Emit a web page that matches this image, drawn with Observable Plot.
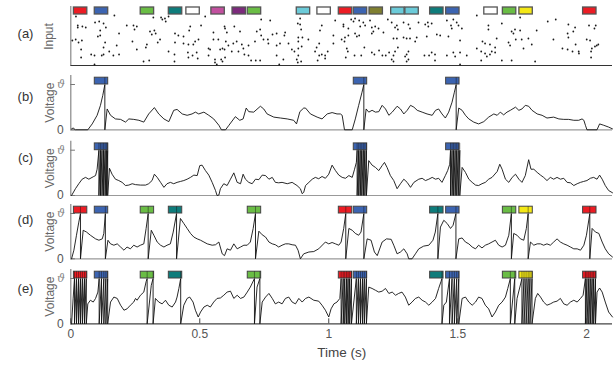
<!DOCTYPE html>
<html><head><meta charset="utf-8">
<script src="https://cdn.jsdelivr.net/npm/d3@7"></script>
<script src="https://cdn.jsdelivr.net/npm/@observablehq/plot@0.6"></script>
<style>
body{margin:0;background:#fff;}
#chart{position:relative;width:615px;height:368px;overflow:hidden;background:#fff;}
#chart svg{position:absolute;left:0;top:0;}
</style></head><body><div id="chart"></div>
<script>
// ---------- data ----------
const patternNames  = ["P-red","P-blue","P-green","P-teal","P-white","P-magenta","P-purple","P-olive","P-cyan","P-yellow"];
const patternColors = ["#ec1c24","#3c64b1","#6abd45","#0e7c7b","#ffffff","#c2509f","#7c2a7c","#7f7f30","#6ccbd9","#f4e816"];
const patternStarts = [0.012,0.093,0.271,0.38,0.448,0.545,0.627,0.686,0.876,0.956,1.039,1.097,1.158,1.242,1.297,1.393,1.455,1.603,1.675,1.739,1.986];
const patternIds    = ["P-red","P-blue","P-green","P-teal","P-white","P-magenta","P-purple","P-green","P-cyan","P-white","P-red","P-blue","P-olive","P-cyan","P-cyan","P-teal","P-blue","P-white","P-green","P-yellow","P-red"];
const patternLength = 0.052;
const targetsSingle = ["P-blue"];
const targetsMulti  = ["P-red","P-blue","P-green","P-teal","P-yellow"];

// input raster: [time (ms), afferent index]
const inputSpikes = [
[27,39],[45,38],[27,37],[58,37],[94,42],[110,43],[127,41],[136,37],[114,34],[114,29],[105,28],[187,31],[217,39],[243,39],[256,38],[247,35],[307,33],[324,34],[329,31],[314,30],[355,45],[368,43],[379,48],[404,31],[417,29],[437,28],[463,38],[459,34],[505,39],[521,48],[596,38],[598,36],[634,38],[605,32],[553,32],[656,33],[721,33],[734,35],[738,45],[773,44],[738,29],[764,25],[782,30],[798,31],[831,32],[828,29],[880,41],[889,40],[893,35],[898,27],[882,27],[889,46],[973,39],[966,34],[1018,29],[1025,44],
[169,49],[320,47],[350,47],[365,46],[20,48],
[6,24],[19,25],[30,22],[43,24],[40,15],[127,17],[133,22],[178,19],[239,23],[295,20],[291,17],[337,22],[346,25],[404,22],[437,21],[456,20],[475,20],[482,23],[495,25],[534,16],[553,25],[572,25],[601,23],[611,19],[630,21],[643,23],[663,20],[689,19],[714,23],[747,25],[766,21],[798,19],[811,21],[844,21],[882,23],[921,25],[953,17],[963,21],[1018,21],
[40,7],[79,10],[92,9],[120,9],[127,10],[149,13],[165,9],[187,10],[92,0],[256,15],[282,3],[304,4],[379,13],[402,10],[402,3],[454,12],[456,7],[472,9],[488,12],[492,6],[534,9],[540,15],[559,5],[559,2],[579,15],[588,16],[596,15],[583,5],[588,3],[566,0],[598,7],[624,13],[650,13],[669,16],[673,10],[689,9],[699,4],[717,4],[734,4],[798,9],[824,5],[808,0],[857,15],[867,13],[882,16],[895,18],[882,9],[876,5],[880,2],[893,3],[947,13],[963,9],[973,10],[986,9],[996,13],[986,6],[957,4],
[1057,40],[1057,38],[1076,36],[1087,45],[1096,43],[1102,46],[1118,44],[1122,38],[1134,42],[1141,39],[1160,44],[1167,37],[1180,38],[1193,36],[1229,45],[1244,42],[1264,39],[1257,37],[1268,35],[1290,42],[1309,40],[1315,36],[1348,42],[1374,40],[1386,38],[1384,42],[1399,41],[1458,44],[1483,45],[1496,42],[1503,39],[1516,36],[1474,39],[1477,36],[1574,49],[1619,39],[1619,35],[1671,41],[1709,33],[1722,35],[1716,31],[1742,47],[1742,34],[1806,34],[1849,43],[1880,45],[1929,40],[1955,37],[1948,33],[2009,39],[2030,36],[2035,39],
[1063,27],[1076,29],[1109,28],[1118,29],[1102,31],[1167,31],[1173,33],[1212,32],[1251,26],[1264,26],[1290,27],[1302,26],[1315,26],[1341,27],[1335,23],[1380,28],[1419,30],[1432,29],[1464,28],[1509,24],[1596,23],[1606,21],[1625,20],[1651,26],[1697,22],[1703,19],[1725,25],[1748,25],[1774,26],[1787,20],[1871,25],[1926,31],[1929,27],[1957,20],[2000,25],[2013,24],[2039,19],[2045,20],[1050,25],[1061,23],
[1070,16],[1074,13],[1066,7],[1100,9],[1126,9],[1138,17],[1167,12],[1177,10],[1195,14],[1208,9],[1221,9],[1234,12],[1244,5],[1251,3],[1251,9],[1268,17],[1257,13],[1296,8],[1302,10],[1302,3],[1309,5],[1309,13],[1371,9],[1389,9],[1399,12],[1412,10],[1412,4],[1458,9],[1483,12],[1490,8],[1509,12],[1535,9],[1509,0],[1574,16],[1591,13],[1591,4],[1606,11],[1613,8],[1625,10],[1632,13],[1645,12],[1645,17],[1671,4],[1709,4],[1755,16],[1800,3],[1906,16],[1926,15],[1945,13],[1969,13],[1970,11],[2017,13],[2017,7],[2032,18],[2020,16]
];

// voltage traces: [time (s), V / threshold]
const traceB = [[0.003,0.02],[0.009,0.04],[0.018,0],[0.066,0],[0.083,0.13],[0.102,0.32],[0.115,0.54],[0.124,0.76],
[0.141,0.46],[0.154,0.32],[0.173,0.24],[0.193,0.23],[0.212,0.17],[0.225,0.24],[0.244,0.23],[0.264,0.21],[0.283,0.17],[0.302,0.35],[0.324,0.49],[0.341,0.35],[0.361,0.24],[0.38,0.18],[0.399,0.43],[0.412,0.45],[0.432,0.35],[0.451,0.32],[0.47,0.35],[0.483,0.39],[0.496,0.35],[0.516,0.39],[0.535,0.32],[0.554,0.24],[0.574,0.10],[0.584,0],[0.6,0],[0.613,0.10],[0.638,0.29],[0.655,0.21],[0.668,0.24],[0.68,0.48],[0.69,0.40],[0.709,0.39],[0.735,0.52],[0.748,0.46],[0.761,0.35],[0.787,0.28],[0.813,0.26],[0.839,0.24],[0.864,0.21],[0.875,0.13],[0.888,0.40],[0.903,0.48],[0.91,0.48],[0.929,0.35],[0.955,0.28],[0.974,0.24],[0.994,0.35],[1.013,0.38],[1.032,0.35],[1.045,0.35],[1.052,0.32],[1.061,0],[1.091,0],[1.103,0.24],[1.116,0.54],[1.129,0.83],
[1.145,0.46],[1.155,0.39],[1.168,0.43],[1.181,0.39],[1.194,0.40],[1.207,0.54],[1.22,0.46],[1.233,0.32],[1.246,0.39],[1.265,0.52],[1.278,0.46],[1.291,0.35],[1.304,0.43],[1.317,0.54],[1.33,0.5],[1.343,0.43],[1.362,0.39],[1.381,0.35],[1.401,0.32],[1.414,0.43],[1.426,0.46],[1.439,0.35],[1.452,0.26],[1.465,0.39],[1.478,0.61],[1.487,0.83],
[1.504,0.48],[1.517,0.43],[1.53,0.32],[1.543,0.24],[1.562,0.17],[1.581,0.13],[1.601,0.18],[1.62,0.28],[1.64,0.35],[1.653,0.32],[1.665,0.39],[1.678,0.33],[1.691,0.39],[1.704,0.43],[1.724,0.5],[1.737,0.43],[1.749,0.46],[1.762,0.54],[1.775,0.52],[1.788,0.43],[1.808,0.35],[1.827,0.32],[1.846,0.26],[1.872,0.28],[1.892,0.24],[1.911,0.23],[1.93,0.23],[1.95,0.21],[1.969,0.21],[1.982,0.24],[1.989,0.21],[1.995,0.10],[2.001,0],[2.04,0],[2.05,0.13],[2.066,0.10],[2.085,0.06],[2.1,0.02]];
const spikesB = [0.132,1.136,1.494];

const traceC = [[0.003,0],[0.018,0.15],[0.031,0.26],[0.044,0.36],[0.057,0.40],[0.07,0.36],[0.089,0.42],[0.096,0.44],[0.102,0.58],
[0.15,0.60],[0.16,0.47],[0.173,0.36],[0.186,0.33],[0.199,0.29],[0.212,0.22],[0.225,0.23],[0.238,0.26],[0.251,0.24],[0.27,0.23],[0.29,0.23],[0.302,0.26],[0.315,0.33],[0.324,0.47],[0.335,0.40],[0.348,0.29],[0.361,0.18],[0.373,0.26],[0.386,0.29],[0.399,0.26],[0.412,0.29],[0.425,0.31],[0.438,0.33],[0.451,0.36],[0.464,0.40],[0.477,0.45],[0.49,0.44],[0.5,0.66],[0.509,0.67],[0.522,0.55],[0.535,0.45],[0.548,0.29],[0.561,0.11],[0.567,0],[0.574,0.01],[0.58,0.15],[0.593,0.26],[0.606,0.22],[0.619,0.36],[0.632,0.50],[0.645,0.29],[0.658,0.26],[0.668,0.47],[0.677,0.36],[0.69,0.29],[0.703,0.26],[0.716,0.36],[0.729,0.35],[0.742,0.45],[0.755,0.44],[0.768,0.36],[0.781,0.40],[0.793,0.29],[0.806,0.28],[0.819,0.29],[0.839,0.26],[0.858,0.29],[0.877,0.22],[0.89,0.15],[0.897,0.04],[0.903,0.07],[0.91,0.22],[0.923,0.29],[0.936,0.36],[0.948,0.40],[0.961,0.37],[0.974,0.42],[0.987,0.38],[1.0,0.47],[1.013,0.67],[1.026,0.55],[1.039,0.45],[1.052,0.40],[1.065,0.38],[1.078,0.44],[1.091,0.40],[1.1,0.58],[1.107,0.73],
[1.155,0.77],[1.168,0.67],[1.181,0.62],[1.194,0.55],[1.207,0.66],[1.216,0.73],[1.226,0.62],[1.239,0.44],[1.252,0.33],[1.265,0.15],[1.278,0.26],[1.291,0.36],[1.304,0.29],[1.317,0.18],[1.33,0.29],[1.349,0.36],[1.362,0.38],[1.375,0.33],[1.388,0.36],[1.401,0.40],[1.414,0.36],[1.426,0.38],[1.439,0.29],[1.452,0.44],[1.461,0.55],[1.469,0.69],
[1.517,0.62],[1.53,0.51],[1.543,0.36],[1.556,0.29],[1.569,0.23],[1.581,0.22],[1.594,0.26],[1.607,0.29],[1.62,0.36],[1.633,0.40],[1.653,0.53],[1.663,0.69],[1.672,0.58],[1.685,0.36],[1.698,0.29],[1.711,0.40],[1.724,0.47],[1.737,0.36],[1.749,0.29],[1.762,0.44],[1.775,0.79],[1.784,0.58],[1.795,0.58],[1.808,0.51],[1.821,0.45],[1.833,0.40],[1.846,0.33],[1.859,0.40],[1.872,0.36],[1.885,0.40],[1.898,0.36],[1.911,0.38],[1.924,0.29],[1.937,0.28],[1.95,0.22],[1.963,0.26],[1.976,0.29],[1.988,0.31],[2.001,0.33],[2.014,0.38],[2.027,0.40],[2.04,0.36],[2.05,0.45],[2.06,0.36],[2.072,0.22],[2.085,0.11],[2.1,0.06]];
const spikesC = [0.109,0.115,0.121,0.127,0.133,0.138,0.143, 1.11,1.116,1.122,1.128,1.134,1.14,1.146, 1.472,1.478,1.484,1.49,1.496,1.502,1.508];

const traceD = [[0.003,0],[0.012,0.19],[0.022,0.52],[0.031,0.81],
[0.048,0.63],[0.061,0.59],[0.076,0.52],[0.096,0.44],[0.109,0.41],[0.122,0.44],[0.128,0.56],
[0.144,0.41],[0.154,0.33],[0.167,0.30],[0.18,0.33],[0.193,0.26],[0.206,0.19],[0.218,0.26],[0.231,0.22],[0.244,0.30],[0.257,0.26],[0.27,0.30],[0.283,0.33],[0.292,0.67],
[0.312,0.63],[0.322,0.52],[0.335,0.37],[0.348,0.30],[0.361,0.26],[0.373,0.30],[0.386,0.33],[0.397,0.59],
[0.425,0.89],[0.438,0.78],[0.451,0.67],[0.464,0.56],[0.477,0.48],[0.49,0.44],[0.503,0.41],[0.516,0.37],[0.529,0.33],[0.548,0.30],[0.561,0.31],[0.574,0.37],[0.587,0.11],[0.596,0.07],[0.606,0.22],[0.619,0.19],[0.632,0.33],[0.645,0.22],[0.658,0.26],[0.671,0.30],[0.684,0.30],[0.696,0.37],[0.707,0.67],
[0.729,0.61],[0.742,0.53],[0.755,0.48],[0.768,0.37],[0.781,0.33],[0.793,0.31],[0.806,0.26],[0.819,0.30],[0.832,0.33],[0.845,0.33],[0.858,0.31],[0.871,0.30],[0.881,0.19],[0.89,0],[0.903,0.11],[0.923,0.15],[0.942,0.16],[0.961,0.22],[0.987,0.37],[1.0,0.33],[1.013,0.36],[1.026,0.33],[1.039,0.30],[1.048,0.37],[1.058,0.67],
[1.078,0.67],[1.091,0.63],[1.103,0.56],[1.116,0.52],[1.125,0.59],
[1.149,0.44],[1.164,0.41],[1.177,0.15],[1.188,0.07],[1.207,0.37],[1.224,0.44],[1.242,0.43],[1.252,0.30],[1.265,0.11],[1.278,0.15],[1.291,0.22],[1.304,0.11],[1.31,0],[1.323,0],[1.336,0.11],[1.349,0.22],[1.368,0.28],[1.388,0.30],[1.404,0.41],[1.413,0.59],
[1.433,0.70],[1.446,0.85],[1.459,0.78],[1.472,0.67],[1.482,0.74],
[1.504,0.44],[1.517,0.46],[1.53,0.37],[1.543,0.33],[1.556,0.26],[1.569,0.22],[1.581,0.30],[1.594,0.24],[1.607,0.30],[1.62,0.33],[1.633,0.37],[1.646,0.41],[1.659,0.30],[1.672,0.26],[1.685,0.30],[1.698,0.52],
[1.717,0.56],[1.73,0.52],[1.743,0.44],[1.756,0.41],[1.766,0.67],
[1.782,0.37],[1.795,0.30],[1.808,0.33],[1.821,0.33],[1.833,0.30],[1.846,0.33],[1.859,0.30],[1.872,0.37],[1.885,0.44],[1.898,0.37],[1.911,0.33],[1.924,0.30],[1.937,0.26],[1.95,0.22],[1.963,0.22],[1.976,0.19],[1.989,0.30],[1.999,0.52],
[2.021,0.67],[2.034,0.59],[2.047,0.56],[2.06,0.37],[2.072,0.22],[2.085,0.11],[2.1,0.04]];
const spikesD = [0.0375,0.134,0.3,0.41,0.716,1.066,1.136,1.423,1.493,1.708,1.773,2.012];

const traceE = [[0.003,0],[0.009,0.55],
[0.066,0.44],[0.076,0.52],[0.087,0.48],[0.096,0.56],[0.105,0.70],
[0.154,0.48],[0.167,0.59],[0.18,0.56],[0.193,0.41],[0.206,0.30],[0.218,0.33],[0.231,0.41],[0.244,0.48],[0.251,0.56],[0.257,0.52],[0.27,0.63],[0.283,0.70],[0.292,0.93],
[0.312,0.85],
[0.328,0.56],[0.341,0.48],[0.354,0.44],[0.367,0.52],[0.38,0.41],[0.393,0.37],[0.406,0.48],[0.412,0.59],[0.419,0.78],
[0.438,0.41],[0.451,0.56],[0.461,0.59],[0.474,0.48],[0.483,0.30],[0.494,0.15],[0.503,0.26],[0.516,0.37],[0.529,0.41],[0.541,0.37],[0.554,0.48],[0.567,0.56],[0.58,0.57],[0.593,0.63],[0.606,0.70],[0.619,0.72],[0.632,0.56],[0.645,0.63],[0.658,0.56],[0.671,0.59],[0.684,0.70],[0.696,0.81],
[0.722,0.81],
[0.742,0.48],[0.755,0.59],[0.768,0.67],[0.781,0.56],[0.793,0.44],[0.806,0.48],[0.819,0.44],[0.832,0.56],[0.845,0.59],[0.858,0.48],[0.871,0.44],[0.884,0.56],[0.897,0.48],[0.91,0.56],[0.923,0.59],[0.942,0.52],[0.961,0.50],[0.974,0.41],[0.987,0.30],[1.0,0.15],[1.009,0.33],[1.02,0.44],[1.032,0.48],[1.043,0.56],
[1.155,0.81],[1.168,0.78],[1.181,0.74],[1.194,0.70],[1.207,0.72],[1.22,0.78],[1.233,0.67],[1.246,0.70],[1.259,0.63],[1.271,0.67],[1.284,0.70],[1.297,0.59],[1.31,0.41],[1.323,0.48],[1.336,0.56],[1.349,0.59],[1.362,0.52],[1.375,0.48],[1.388,0.41],[1.401,0.48],[1.414,0.56],[1.426,0.78],[1.435,0.93],
[1.446,0.41],[1.456,0.48],
[1.517,0.56],[1.53,0.59],[1.543,0.48],[1.556,0.41],[1.569,0.48],[1.581,0.59],[1.594,0.56],[1.607,0.41],[1.62,0.33],[1.633,0.15],[1.646,0.26],[1.659,0.41],[1.672,0.48],[1.685,0.59],[1.694,0.78],
[1.73,0.56],
[1.801,0.56],[1.81,0.67],[1.821,0.59],[1.833,0.48],[1.846,0.41],[1.859,0.44],[1.872,0.48],[1.885,0.50],[1.898,0.56],[1.911,0.44],[1.924,0.41],[1.937,0.48],[1.95,0.52],[1.963,0.48],[1.976,0.56],[1.986,0.63],
[2.04,0.70],[2.05,0.79],[2.06,0.70],[2.072,0.48],[2.085,0.26],[2.1,0.15]];
const spikesE = [0.0143,0.022,0.03,0.0375,0.045,0.053,0.06, 0.11,0.119,0.128,0.136,0.143, 0.296,0.319, 0.426, 0.712,0.733,
1.048,1.056,1.062,1.069,1.075,1.081,1.088, 1.107,1.115,1.123,1.131,1.138,1.146, 1.439, 1.468,1.478,1.487,1.496,1.504,
1.704,1.721, 1.749,1.757,1.765,1.773,1.78,1.788, 1.995,2.001,2.008,2.014,2.021,2.027,2.034];

const xTicks = [0, 0.5, 1, 1.5, 2];
const xTickLabels = ["0", "0.5", "1", "1.5", "2"];
const panelLabels = ["(a)", "(b)", "(c)", "(d)", "(e)"];

// ---------- layout ----------
const W = 615, H = 368, ML = 70.3, MR = 3;
const UNIT = 45.3;
const FONT = "Liberation Sans, Arial, Helvetica, sans-serif";
const chart = document.getElementById("chart");
const patterns = patternStarts.map((t, i) => ({t, id: patternIds[i]}));
const colorScale = {type: "ordinal", domain: patternNames, range: patternColors};
const baseStyle = {background: "transparent", overflow: "visible", fontFamily: FONT};

function buildTrace(pairs, spikes) {
  const rows = pairs.map(([t, v]) => ({t, v, k: 0}));
  for (const s of spikes) { rows.push({t: s, v: 1, k: 1}); rows.push({t: s, v: 0, k: 2}); }
  rows.sort((a, b) => a.t - b.t || a.k - b.k);
  return rows;
}

// panel (a)
chart.append(Plot.plot({
  width: W, height: H, marginLeft: ML, marginRight: MR, marginTop: 6, marginBottom: H - 65,
  style: baseStyle,
  x: {domain: [0, 2.1], axis: null},
  y: {domain: [-1, 58], axis: null},
  color: colorScale,
  marks: [
    Plot.ruleX([0], {y1: -1, y2: 58, stroke: "#888", strokeWidth: 1.2}),
    Plot.ruleY([-1], {stroke: "#333", strokeWidth: 1.2}),
    Plot.dot(inputSpikes, {x: d => d[0] / 1000, y: d => d[1], r: 0.9, fill: "#1a1a1a", stroke: null}),
    Plot.rect(patterns, {x1: "t", x2: d => d.t + patternLength, y1: 50, y2: 57, fill: "id", stroke: "#555", strokeWidth: 1.3}),
    Plot.text([panelLabels[0]], {frameAnchor: "left", textAnchor: "middle", dx: -45.3, dy: -2.5, fontSize: 13, fill: "#333"}),
    Plot.text(["Input"], {frameAnchor: "left", textAnchor: "middle", dx: -21.3, dy: 0.5, rotate: -90, fontSize: 12, fill: "#666"})
  ]
}));

function voltagePanel(zero, pairs, spikes, targets, label, labelDy, last) {
  const top = zero - 1.2 * UNIT;
  const rows = buildTrace(pairs, spikes);
  const boxes = patterns.filter(p => targets.includes(p.id));
  const marks = [
    Plot.ruleX([0], {y1: 0, y2: 1.2, stroke: "#888", strokeWidth: 1.2}),
    Plot.ruleY([0], {stroke: last ? "#444" : "#999", strokeWidth: 1.2}),
    Plot.ruleY([0, 1], {x1: 0, x2: 0.018, stroke: "#777"}),
    Plot.line(rows, {x: "t", y: "v", stroke: "#111", strokeWidth: 0.9}),
    Plot.rect(boxes, {x1: "t", x2: d => d.t + patternLength, y1: 1, y2: 1.15, fill: "id", stroke: "#444", strokeWidth: 1}),
    Plot.ruleX(spikes, {y1: 1, y2: 1.15, stroke: "#111", strokeWidth: 0.8, strokeOpacity: 0.55}),
    Plot.axisY([0], {tickSize: 0, tickPadding: 7, fontSize: 12, fill: "#555", label: null, tickFormat: () => "0"}),
    Plot.axisY([1], {tickSize: 0, tickPadding: 6, fontSize: 11, fill: "#888", fontFamily: "DejaVu Serif", fontStyle: "italic", label: null, tickFormat: () => "\u03d1"}),
    Plot.text(["Voltage"], {frameAnchor: "left", textAnchor: "middle", dx: -20.3, rotate: -90, fontSize: 12, fill: "#666"}),
    Plot.text([label], {frameAnchor: "left", textAnchor: "middle", dx: -45.3, dy: labelDy, fontSize: 13, fill: "#333"})
  ];
  if (last) {
    marks.push(
      Plot.ruleX(xTicks, {y1: 0, y2: 0.11, stroke: "#444"}),
      Plot.text(xTicks, {x: d => d, frameAnchor: "bottom", dy: 14, text: (d, i) => xTickLabels[i], fontSize: 12, fill: "#555"}),
      Plot.text(["Time (s)"], {frameAnchor: "bottom", dy: 33, fontSize: 13.5, fill: "#444"})
    );
  }
  return Plot.plot({
    width: W, height: H, marginLeft: ML, marginRight: MR, marginTop: top, marginBottom: H - zero,
    style: baseStyle,
    x: {domain: [0, 2.1], axis: null},
    y: {domain: [0, 1.2], axis: null},
    color: colorScale,
    marks
  });
}

chart.append(voltagePanel(129.3, traceB, spikesB, targetsSingle, panelLabels[1], -5.4, false));
chart.append(voltagePanel(195.0, traceC, spikesC, targetsSingle, panelLabels[2], -10, false));
chart.append(voltagePanel(258.3, traceD, spikesD, targetsMulti, panelLabels[3], -12, false));
chart.append(voltagePanel(323.3, traceE, spikesE, targetsMulti, panelLabels[4], -8, true));
</script></body></html>
